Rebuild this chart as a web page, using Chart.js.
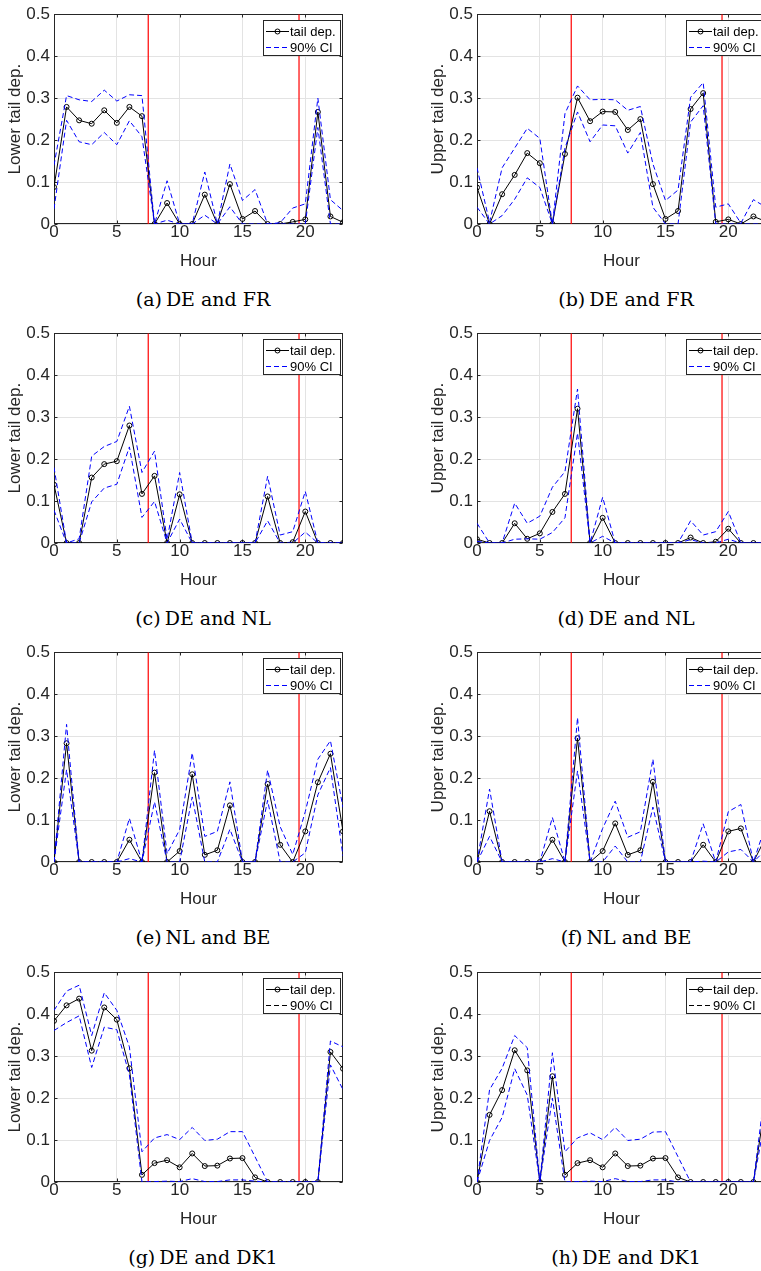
<!DOCTYPE html>
<html>
<head>
<meta charset="utf-8">
<script src="https://cdn.jsdelivr.net/npm/chart.js@4.4.0/dist/chart.umd.min.js"></script>
<style>
  html, body { margin: 0; padding: 0; background: #fff; }
  body { width: 761px; height: 1271px; overflow: hidden; position: relative; }
  .panel { position: absolute; width: 362px; height: 285px; }
  .caption {
    position: absolute; width: 300px; height: 22px; line-height: 22px;
    text-align: center; white-space: nowrap; color: #000;
    font-family: "DejaVu Serif", serif; font-size: 19px;
  }
  .caption span { margin-left: 4px; }
</style>
</head>
<body>
<div id="figura"></div>
<script>
const horas = [0, 1, 2, 3, 4, 5, 6, 7, 8, 9, 10, 11, 12, 13, 14, 15, 16, 17, 18, 19, 20, 21, 22, 23];
const lineasRojas = [7.5, 19.5];
const ticksX = [0, 5, 10, 15, 20];
const ticksY = [0, 0.1, 0.2, 0.3, 0.4, 0.5];

// (a) DE y FR, cola inferior
const deFrInfTail = [0.088, 0.279, 0.247, 0.239, 0.271, 0.241, 0.279, 0.257, 0, 0.05, 0, 0, 0.07, 0, 0.095, 0.012, 0.031, 0, 0, 0.005, 0.011, 0.267, 0.018, 0.004];
const deFrInfSup = [0.14, 0.306, 0.296, 0.292, 0.319, 0.293, 0.308, 0.306, 0, 0.103, 0, 0, 0.124, 0, 0.143, 0.056, 0.082, 0, 0.003, 0.038, 0.048, 0.3, 0.058, 0.032];
const deFrInfLow = [0.036, 0.247, 0.196, 0.189, 0.218, 0.189, 0.246, 0.208, 0, 0.009, 0, 0, 0.021, 0, 0.041, 0, 0, 0, 0, 0, 0, 0.23, 0, 0];

// (b) DE y FR, cola superior
const deFrSupTail = [0.087, 0, 0.071, 0.117, 0.169, 0.145, 0, 0.167, 0.301, 0.245, 0.268, 0.267, 0.224, 0.25, 0.095, 0.012, 0.031, 0.274, 0.312, 0.005, 0.011, 0, 0.018, 0.006];
const deFrSupSup = [0.134, 0.004, 0.134, 0.181, 0.228, 0.204, 0, 0.263, 0.329, 0.296, 0.297, 0.296, 0.271, 0.28, 0.143, 0.056, 0.081, 0.302, 0.337, 0.04, 0.048, 0.002, 0.058, 0.04];
const deFrSupLow = [0.04, 0, 0.02, 0.059, 0.11, 0.087, 0, 0.181, 0.267, 0.196, 0.236, 0.234, 0.169, 0.218, 0.04, 0, 0, 0.243, 0.282, 0, 0, 0, 0, 0];

// (c) DE y NL, cola inferior
const deNlInfTail = [0.139, 0, 0, 0.156, 0.188, 0.195, 0.28, 0.117, 0.16, 0, 0.116, 0, 0, 0, 0, 0, 0, 0.111, 0, 0.002, 0.075, 0, 0, 0];
const deNlInfSup = [0.18, 0, 0.01, 0.207, 0.23, 0.242, 0.326, 0.168, 0.219, 0.008, 0.168, 0, 0, 0, 0, 0, 0, 0.159, 0.019, 0.027, 0.123, 0, 0, 0];
const deNlInfLow = [0.078, 0, 0, 0.098, 0.131, 0.14, 0.229, 0.061, 0.099, 0, 0.057, 0, 0, 0, 0, 0, 0, 0.053, 0, 0, 0.026, 0, 0, 0];

// (d) DE y NL, cola superior
const deNlSupTail = [0.009, 0, 0, 0.047, 0.01, 0.023, 0.074, 0.117, 0.32, 0, 0.06, 0, 0, 0, 0, 0, 0, 0.013, 0, 0.003, 0.034, 0, 0, 0];
const deNlSupSup = [0.047, 0, 0, 0.095, 0.047, 0.064, 0.133, 0.17, 0.367, 0, 0.109, 0, 0, 0, 0, 0, 0, 0.053, 0.019, 0.027, 0.075, 0, 0, 0];
const deNlSupLow = [0.004, 0, 0, 0.009, 0.01, 0.009, 0.025, 0.06, 0.262, 0, 0.016, 0, 0, 0, 0, 0, 0, 0.008, 0, 0, 0.009, 0, 0, 0];

// (e) NL y BE, cola inferior
const nlBeInfTail = [0, 0.283, 0, 0, 0, 0, 0.053, 0, 0.213, 0, 0.026, 0.209, 0.017, 0.028, 0.135, 0, 0, 0.186, 0.041, 0, 0.073, 0.19, 0.258, 0.073];
const nlBeInfSup = [0, 0.328, 0, 0, 0, 0, 0.104, 0, 0.266, 0.02, 0.077, 0.26, 0.061, 0.073, 0.191, 0, 0, 0.219, 0.084, 0.018, 0.12, 0.245, 0.289, 0.13];
const nlBeInfLow = [0, 0.22, 0, 0, 0, 0, 0.008, 0, 0.143, 0, 0, 0.155, 0, 0, 0.078, 0, 0, 0.147, 0, 0, 0.022, 0.16, 0.225, 0.014];

// (f) NL y BE, cola superior
const nlBeSupTail = [0, 0.121, 0, 0, 0, 0, 0.053, 0, 0.295, 0, 0.026, 0.092, 0.017, 0.028, 0.191, 0, 0, 0, 0.041, 0, 0.073, 0.08, 0, 0.06];
const nlBeSupSup = [0, 0.174, 0, 0, 0, 0, 0.106, 0, 0.344, 0, 0.08, 0.145, 0.059, 0.072, 0.245, 0, 0, 0, 0.091, 0, 0.12, 0.137, 0, 0.09];
const nlBeSupLow = [0, 0.061, 0, 0, 0, 0, 0.008, 0, 0.217, 0, 0, 0.038, 0, 0, 0.131, 0, 0, 0, 0.002, 0, 0.024, 0.03, 0, 0.03];

// (g) DE y DK1, cola inferior
const deDkInfTail = [0.384, 0.421, 0.437, 0.313, 0.416, 0.387, 0.271, 0.017, 0.045, 0.052, 0.035, 0.068, 0.038, 0.039, 0.056, 0.057, 0.011, 0, 0, 0, 0, 0, 0.31, 0.27];
const deDkInfSup = [0.409, 0.455, 0.469, 0.349, 0.451, 0.409, 0.322, 0.072, 0.105, 0.113, 0.101, 0.13, 0.099, 0.102, 0.12, 0.12, 0.06, 0, 0, 0, 0, 0, 0.336, 0.322];
const deDkInfLow = [0.361, 0.38, 0.396, 0.273, 0.369, 0.363, 0.255, 0, 0.001, 0.002, 0.001, 0.008, 0.001, 0.001, 0.005, 0.005, 0.002, 0, 0, 0, 0, 0, 0.279, 0.22];

// (h) DE y DK1, cola superior
const deDkSupTail = [0, 0.16, 0.219, 0.314, 0.266, 0, 0.252, 0.017, 0.045, 0.052, 0.035, 0.068, 0.038, 0.039, 0.056, 0.057, 0.011, 0, 0, 0, 0, 0, 0, 0.2];
const deDkSupSup = [0, 0.22, 0.271, 0.349, 0.32, 0, 0.308, 0.072, 0.105, 0.117, 0.101, 0.13, 0.099, 0.102, 0.119, 0.12, 0.06, 0, 0, 0, 0, 0, 0, 0.24];
const deDkSupLow = [0, 0.099, 0.154, 0.27, 0.207, 0, 0.2, 0, 0.001, 0.002, 0.001, 0.008, 0.001, 0.001, 0.005, 0.005, 0, 0, 0, 0, 0, 0, 0, 0.16];

const paneles = [
  { letra: "(a)", titulo: "DE and FR", eje: "Lower tail dep.", col: 0, fila: 0, tail: deFrInfTail, sup: deFrInfSup, low: deFrInfLow },
  { letra: "(b)", titulo: "DE and FR", eje: "Upper tail dep.", col: 1, fila: 0, tail: deFrSupTail, sup: deFrSupSup, low: deFrSupLow },
  { letra: "(c)", titulo: "DE and NL", eje: "Lower tail dep.", col: 0, fila: 1, tail: deNlInfTail, sup: deNlInfSup, low: deNlInfLow },
  { letra: "(d)", titulo: "DE and NL", eje: "Upper tail dep.", col: 1, fila: 1, tail: deNlSupTail, sup: deNlSupSup, low: deNlSupLow },
  { letra: "(e)", titulo: "NL and BE", eje: "Lower tail dep.", col: 0, fila: 2, tail: nlBeInfTail, sup: nlBeInfSup, low: nlBeInfLow },
  { letra: "(f)", titulo: "NL and BE", eje: "Upper tail dep.", col: 1, fila: 2, tail: nlBeSupTail, sup: nlBeSupSup, low: nlBeSupLow },
  { letra: "(g)", titulo: "DE and DK1", eje: "Lower tail dep.", col: 0, fila: 3, tail: deDkInfTail, sup: deDkInfSup, low: deDkInfLow, ciLeyenda: "#000" },
  { letra: "(h)", titulo: "DE and DK1", eje: "Upper tail dep.", col: 1, fila: 3, tail: deDkSupTail, sup: deDkSupSup, low: deDkSupLow, ciLeyenda: "#000" },
];

const topFilas = [0, 319, 638, 958];
const leftCols = [0, 423];
const fuente = "'Liberation Sans', Arial, sans-serif";
const colorEjes = "#262626";

// marco del eje y marcas hacia adentro, estilo matlab
const marcoEjes = {
  id: "marcoEjes",
  beforeDatasetsDraw(chart) {
    const { ctx, chartArea: a, scales } = chart;
    const l = Math.round(a.left) + 0.5;
    const r = Math.round(a.right) - 0.5;
    const t = Math.round(a.top) + 0.5;
    const b = Math.round(a.bottom) - 0.5;
    ctx.save();
    ctx.strokeStyle = colorEjes;
    ctx.lineWidth = 1;
    ctx.strokeRect(l, t, r - l, b - t);
    ctx.beginPath();
    ticksY.forEach((v) => {
      const y = Math.round(scales.y.getPixelForValue(v)) + 0.5;
      ctx.moveTo(l, y); ctx.lineTo(l + 3, y);
      ctx.moveTo(r, y); ctx.lineTo(r - 3, y);
    });
    ticksX.forEach((v) => {
      const x = Math.round(scales.x.getPixelForValue(v)) + 0.5;
      ctx.moveTo(x, b); ctx.lineTo(x, b - 3);
      ctx.moveTo(x, t); ctx.lineTo(x, t + 3);
    });
    ctx.stroke();
    ctx.restore();
  },
};

// leyenda con caja, arriba a la derecha
const leyendaCaja = {
  id: "leyendaCaja",
  afterDatasetsDraw(chart) {
    const { ctx, chartArea: a } = chart;
    const items = chart.data.datasets.filter((d) => d.label);
    const w = 78;
    const h = 36;
    const x0 = Math.round(a.right) - 2 - w;
    const y0 = Math.round(a.top) + 6;
    ctx.save();
    ctx.fillStyle = "#fff";
    ctx.fillRect(x0, y0, w, h);
    ctx.strokeStyle = colorEjes;
    ctx.lineWidth = 1;
    ctx.strokeRect(x0 + 0.5, y0 + 0.5, w - 1, h - 1);
    items.forEach((d, i) => {
      const yc = y0 + 11.5 + i * 16;
      ctx.strokeStyle = d.colorLeyenda || d.borderColor;
      ctx.setLineDash(d.borderDash || []);
      ctx.beginPath();
      ctx.moveTo(x0 + 3, yc);
      ctx.lineTo(x0 + 26, yc);
      ctx.stroke();
      ctx.setLineDash([]);
      if (d.pointRadius) {
        ctx.beginPath();
        ctx.arc(x0 + 14.5, yc, d.pointRadius, 0, 2 * Math.PI);
        ctx.stroke();
      }
      ctx.fillStyle = "#000";
      ctx.font = `13px ${fuente}`;
      ctx.textBaseline = "middle";
      ctx.fillText(d.label, x0 + 27, yc + 0.5);
    });
    ctx.restore();
  },
};

function aPuntos(valores) {
  return valores.map((v, i) => ({ x: horas[i], y: v }));
}

function crearPanel(p) {
  const figura = document.getElementById("figura");
  const div = document.createElement("div");
  div.className = "panel";
  div.style.left = `${leftCols[p.col]}px`;
  div.style.top = `${topFilas[p.fila]}px`;
  const canvas = document.createElement("canvas");
  canvas.width = 362;
  canvas.height = 285;
  div.appendChild(canvas);
  figura.appendChild(div);

  const cap = document.createElement("div");
  cap.className = "caption";
  cap.style.left = `${leftCols[p.col] + 203 - 150}px`;
  cap.style.top = `${topFilas[p.fila] + 288}px`;
  cap.innerHTML = `${p.letra}<span>${p.titulo}</span>`;
  figura.appendChild(cap);

  const rojas = lineasRojas.map((h) => ({
    data: [{ x: h, y: 0 }, { x: h, y: 0.5 }],
    borderColor: "#ff0000",
    borderWidth: 1.2,
    pointRadius: 0,
    order: 3,
  }));

  new Chart(canvas, {
    type: "line",
    data: {
      datasets: [
        {
          label: "tail dep.",
          data: aPuntos(p.tail),
          borderColor: "#000",
          borderWidth: 1,
          pointRadius: 2.5,
          pointBorderWidth: 1,
          pointBorderColor: "#000",
          pointBackgroundColor: "rgba(0,0,0,0)",
          order: 2,
        },
        {
          label: "90% CI",
          data: aPuntos(p.sup),
          borderColor: "#0000ff",
          colorLeyenda: p.ciLeyenda,
          borderWidth: 1,
          borderDash: [5, 3],
          pointRadius: 0,
          order: 1,
        },
        {
          data: aPuntos(p.low),
          borderColor: "#0000ff",
          borderWidth: 1,
          borderDash: [5, 3],
          pointRadius: 0,
          order: 1,
        },
        ...rojas,
      ],
    },
    options: {
      responsive: false,
      animation: false,
      events: [],
      layout: { padding: { top: 11, right: 19, left: 0, bottom: 0 } },
      plugins: { legend: { display: false }, tooltip: { enabled: false } },
      scales: {
        x: {
          type: "linear",
          min: 0,
          max: 23,
          afterFit: (s) => { s.height = 61; },
          afterBuildTicks: (s) => { s.ticks = ticksX.map((v) => ({ value: v })); },
          ticks: { padding: -2, color: colorEjes, font: { family: fuente, size: 17 }, maxRotation: 0, autoSkip: false },
          grid: { color: "#e3e3e3", drawTicks: false },
          border: { display: false },
          title: { display: true, text: "Hour", color: colorEjes, font: { family: fuente, size: 17 }, padding: { top: 0, bottom: 13 } },
        },
        y: {
          min: 0,
          max: 0.5,
          afterFit: (s) => { s.width = 54; },
          afterBuildTicks: (s) => { s.ticks = ticksY.map((v) => ({ value: v })); },
          ticks: { padding: 4, color: colorEjes, font: { family: fuente, size: 17 }, callback: (v) => `${v}` },
          grid: { color: "#e3e3e3", drawTicks: false },
          border: { display: false },
          title: { display: true, text: p.eje, color: colorEjes, font: { family: fuente, size: 17 }, padding: { top: 5, bottom: 0 } },
        },
      },
    },
    plugins: [marcoEjes, leyendaCaja],
  });
}

paneles.forEach(crearPanel);
</script>
</body>
</html>
